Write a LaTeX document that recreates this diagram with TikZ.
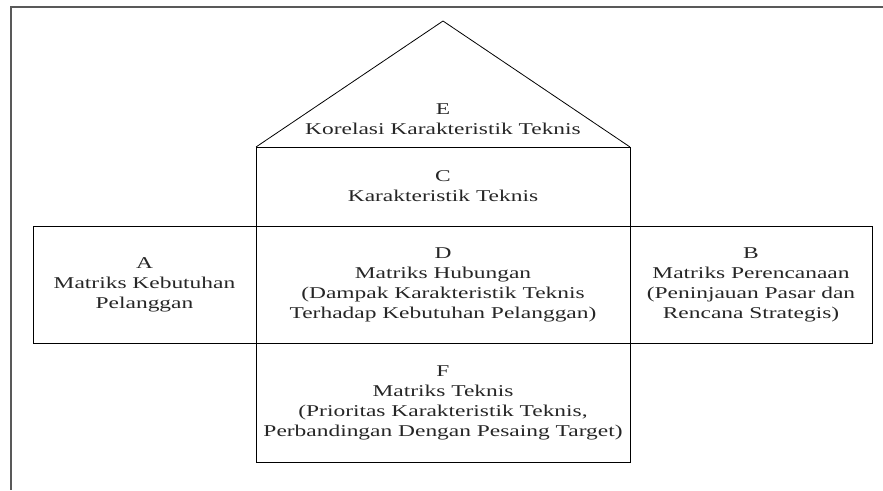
\documentclass[tikz,border=0pt]{standalone}
\usepackage{fontspec}
\setmainfont{Liberation Serif}[FakeStretch=1.42]
\begin{document}
\begin{tikzpicture}[x=1pt,y=-1pt,
  txt/.style={font=\fontsize{16.5}{20}\selectfont, align=center, text=black!85},
  cell/.style={txt, draw=black, line width=0.8pt, inner sep=0pt, outer sep=0pt, anchor=center},
  frameline/.style={draw=black!65, line width=1.4pt}]
\useasboundingbox (0,0) rectangle (883,490);
% outer frame
\coordinate (fTR) at (883,7);
\coordinate (fTL) at (11,7);
\coordinate (fBL) at (11,490);
\draw[frameline] (fTR) -- (fTL) -- (fBL);
% cells
\node[cell, minimum width=374, minimum height=79] (C) at (443,186.5) {C\\Karakteristik Teknis};
\node[cell, minimum width=223, minimum height=117] (A) at (144.5,284.5) {A\\Matriks Kebutuhan\\Pelanggan};
\node[cell, minimum width=374, minimum height=117] (D) at (443,284.5) {D\\Matriks Hubungan\\(Dampak Karakteristik Teknis\\Terhadap Kebutuhan Pelanggan)};
\node[cell, minimum width=242, minimum height=117] (B) at (751,284.5) {B\\Matriks Perencanaan\\(Peninjauan Pasar dan\\Rencana Strategis)};
\node[cell, minimum width=374, minimum height=119] (F) at (443,402.5) {F\\Matriks Teknis\\(Prioritas Karakteristik Teknis,\\Perbandingan Dengan Pesaing Target)};
% roof
\coordinate (apex) at (443,21);
\draw[line width=0.8pt] (C.north west) -- (apex) -- (C.north east);
\node[txt] (E) at (443,119.5) {E\\Korelasi Karakteristik Teknis};
\end{tikzpicture}
\end{document}
